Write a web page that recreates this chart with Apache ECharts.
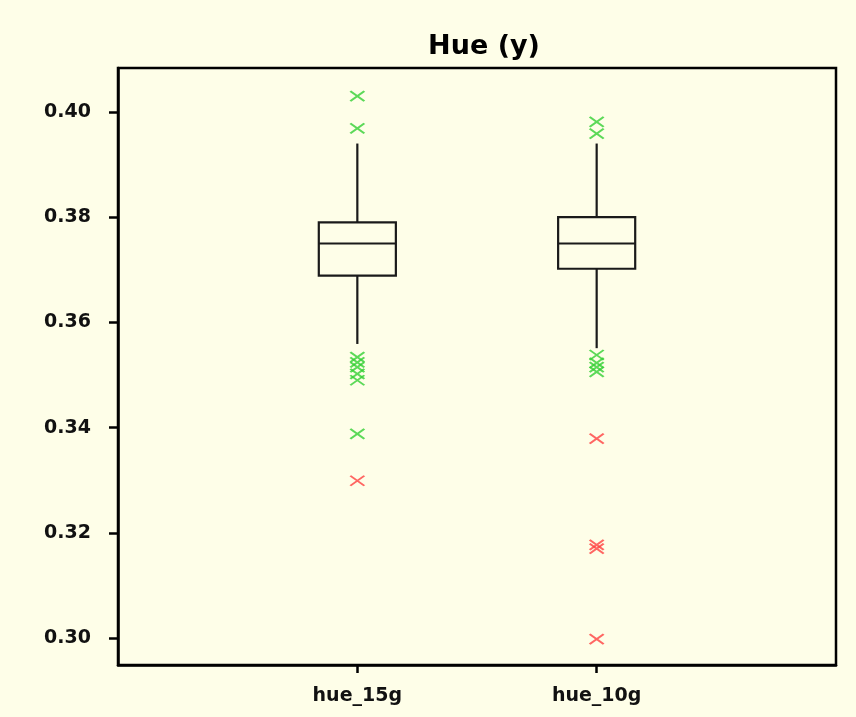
<!DOCTYPE html>
<html>
<head>
<meta charset="utf-8">
<script src="https://cdn.jsdelivr.net/npm/echarts@6/dist/echarts.min.js"></script>
<style>
html,body{margin:0;padding:0;background:#fefee8;}
#chart{width:856px;height:717px;}
</style>
</head>
<body>
<div id="chart"></div>
<script>
// ---- data ----
const categories = ['hue_15g', 'hue_10g'];
const categoryPos = [1, 2];
const whiskerLow  = [0.3559, 0.3551];
const q1          = [0.3689, 0.3702];
const median      = [0.3750, 0.3750];
const q3          = [0.3790, 0.3800];
const whiskerHigh = [0.3940, 0.3940];
// green (mild) and red (extreme) outliers
const mild15 = [0.4030, 0.3969, 0.3534, 0.3524, 0.3515, 0.3502, 0.3490, 0.3388];
const extreme15 = [0.3299];
const mild10 = [0.3981, 0.3959, 0.3538, 0.3523, 0.3515, 0.3506];
const extreme10 = [0.3379, 0.3177, 0.3170, 0.2998];
const yTicks = [0.30, 0.32, 0.34, 0.36, 0.38, 0.40];

const boxData = categoryPos.map((p, i) => [p, whiskerLow[i], q1[i], median[i], q3[i], whiskerHigh[i]]);
const mildPts = mild15.map(v => [categoryPos[0], v]).concat(mild10.map(v => [categoryPos[1], v]));
const extremePts = extreme15.map(v => [categoryPos[0], v]).concat(extreme10.map(v => [categoryPos[1], v]));

const chart = echarts.init(document.getElementById('chart'));
const FONT = 'DejaVu Sans';
const crossPath = 'path://M0,0L14,10M14,0L0,10';

chart.setOption({
  backgroundColor: '#fefee8',
  animation: false,
  title: {
    text: 'Hue (y)', left: 479, top: 28, textAlign: 'center',
    textStyle: {fontFamily: FONT, fontSize: 27, fontWeight: 'bold', color: '#000'}
  },
  grid: {left: 118, right: 20, top: 68, bottom: 52, show: true, borderColor: '#000', borderWidth: 2.5, backgroundColor: 'transparent'},
  xAxis: {
    type: 'value', min: 0, max: 3,
    axisLine: {show: true, onZero: false, lineStyle: {color: '#000', width: 2.5}},
    axisTick: {show: true, customValues: categoryPos, length: 8, lineStyle: {color: '#000', width: 2.5}},
    axisLabel: {customValues: categoryPos, margin: 22, fontFamily: FONT, fontSize: 19, fontWeight: 'bold', color: '#111',
      formatter: v => { const i = categoryPos.indexOf(v); return i >= 0 ? categories[i] : ''; }},
    splitLine: {show: false}
  },
  yAxis: {
    type: 'value', min: 0.29487, max: 0.40836,
    axisLine: {show: true, onZero: false, lineStyle: {color: '#000', width: 2.5}},
    axisTick: {show: true, customValues: yTicks, length: 9, lineStyle: {color: '#000', width: 2.5}},
    axisLabel: {customValues: yTicks, margin: 27, fontFamily: FONT, fontSize: 19, fontWeight: 'bold', color: '#111',
      formatter: v => v.toFixed(2)},
    splitLine: {show: false}
  },
  series: [
    {
      type: 'custom',
      data: boxData,
      encode: {x: 0, y: [1, 2, 3, 4, 5]},
      renderItem: function (params, api) {
        const x = api.value(0);
        const half = 0.161;
        const pLow = api.coord([x, api.value(1)]);
        const pQ1 = api.coord([x, api.value(2)]);
        const pMed = api.coord([x, api.value(3)]);
        const pQ3 = api.coord([x, api.value(4)]);
        const pHigh = api.coord([x, api.value(5)]);
        const left = api.coord([x - half, api.value(3)])[0];
        const right = api.coord([x + half, api.value(3)])[0];
        const st = {stroke: '#1a1a1a', lineWidth: 2.2, fill: null};
        return {
          type: 'group',
          children: [
            {type: 'line', shape: {x1: pHigh[0], y1: pHigh[1], x2: pQ3[0], y2: pQ3[1]}, style: st},
            {type: 'line', shape: {x1: pQ1[0], y1: pQ1[1], x2: pLow[0], y2: pLow[1]}, style: st},
            {type: 'rect', shape: {x: left, y: pQ3[1], width: right - left, height: pQ1[1] - pQ3[1]}, style: st},
            {type: 'line', shape: {x1: left, y1: pMed[1], x2: right, y2: pMed[1]}, style: st}
          ]
        };
      }
    },
    {
      type: 'scatter', data: mildPts, symbol: crossPath, symbolSize: [14, 10],
      itemStyle: {color: 'transparent', borderColor: '#33d033', borderWidth: 2}
    },
    {
      type: 'scatter', data: extremePts, symbol: crossPath, symbolSize: [14, 10],
      itemStyle: {color: 'transparent', borderColor: '#ff4040', borderWidth: 2}
    }
  ]
});
</script>
</body>
</html>
